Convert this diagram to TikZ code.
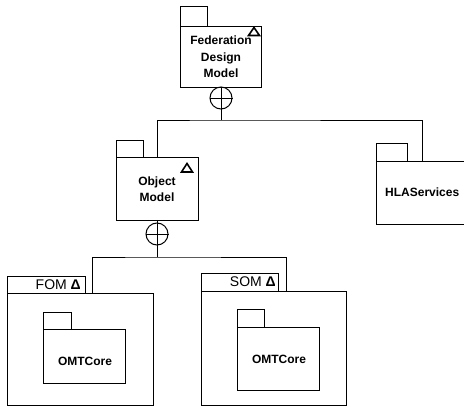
\documentclass[tikz,border=0pt]{standalone}
\usepackage{fontspec}
\setmainfont{Liberation Sans}
\begin{document}
\begin{tikzpicture}[x=1pt,y=-1pt,
  pkg/.style={draw, line width=1pt, rectangle, inner sep=0pt, anchor=north west},
  lbl/.style={font=\bfseries\fontsize{12}{16.5}\selectfont, align=center, inner sep=0pt},
  tablbl/.style={font=\fontsize{14}{14}\selectfont, anchor=east, inner sep=0pt},
  tri/.style={draw, line width=1.6pt, line join=miter},
  xor/.style={draw, line width=1pt, circle, minimum size=22pt, inner sep=0pt},
  conn/.style={draw, line width=1pt}]
\useasboundingbox (0,0) rectangle (464,407);
\fill[white] (0,0) rectangle (464,407);
\clip (0,0) rectangle (464,407);

% Federation Design Model
\node[pkg, minimum width=27pt, minimum height=20pt] (fedtab) at (180,6) {};
\node[pkg, minimum width=81pt, minimum height=61pt] (fed) at (180,26) {};
\node[lbl] (fedtxt) at (221,57) {Federation\\Design\\Model};
\draw[tri] (254,27.5) -- (259.5,35.5) -- (248.5,35.5) -- cycle;
\node[xor] (c1) at (221,98) {};
\draw[conn] (c1.north) -- (c1.south) (c1.west) -- (c1.east);

% Object Model
\node[pkg, minimum width=27pt, minimum height=17pt] (omtab) at (116,140) {};
\node[pkg, minimum width=82pt, minimum height=63pt] (om) at (116,157) {};
\node[lbl] (omtxt) at (157,189) {Object\\Model};
\draw[tri] (187,163.5) -- (192.5,172) -- (181.5,172) -- cycle;
\node[xor] (c2) at (157,234) {};
\draw[conn] (c2.north) -- (c2.south) (c2.west) -- (c2.east);

% HLAServices
\node[pkg, minimum width=31pt, minimum height=18pt] (hlatab) at (376,143) {};
\node[pkg, minimum width=100pt, minimum height=63pt] (hla) at (376,161) {};
\node[lbl, anchor=west] (hlatxt) at (385,192) {HLAServices};

% FOM
\node[pkg, minimum width=78pt, minimum height=17pt] (fomtab) at (7,276) {};
\node[pkg, minimum width=146pt, minimum height=112pt] (fom) at (7,293) {};
\node[tablbl] (fomtxt) at (81,284.5) {FOM \textbf{Δ}};
\node[pkg, minimum width=28pt, minimum height=17pt] (fomctab) at (43,312) {};
\node[pkg, minimum width=82pt, minimum height=54pt] (fomc) at (43,329) {};
\node[lbl] (fomctxt) at (85,361) {OMTCore};

% SOM
\node[pkg, minimum width=77pt, minimum height=18pt] (somtab) at (201,273) {};
\node[pkg, minimum width=145pt, minimum height=114pt] (som) at (201,291) {};
\node[tablbl] (somtxt) at (276,282) {SOM \textbf{Δ}};
\node[pkg, minimum width=27pt, minimum height=18pt] (somctab) at (237,309) {};
\node[pkg, minimum width=82pt, minimum height=63pt] (somc) at (237,327) {};
\node[lbl] (somctxt) at (279,359) {OMTCore};

% connectors
\coordinate (j1) at (221,120);
\coordinate (omtop) at (157,157);
\coordinate (hlatop) at (422,161);
\draw[conn] (fed.south -| c1) -- (c1.north);
\draw[conn] (c1.south) -- (j1);
\draw[conn] (omtop) |- (j1) -| (hlatop);

\coordinate (j2) at (157,257);
\coordinate (fomtop) at (92,293);
\coordinate (somtop) at (286,292);
\draw[conn] (om.south -| c2) -- (c2.north);
\draw[conn] (c2.south) -- (j2);
\draw[conn] (fomtop) |- (j2) -| (somtop);
\end{tikzpicture}
\end{document}
